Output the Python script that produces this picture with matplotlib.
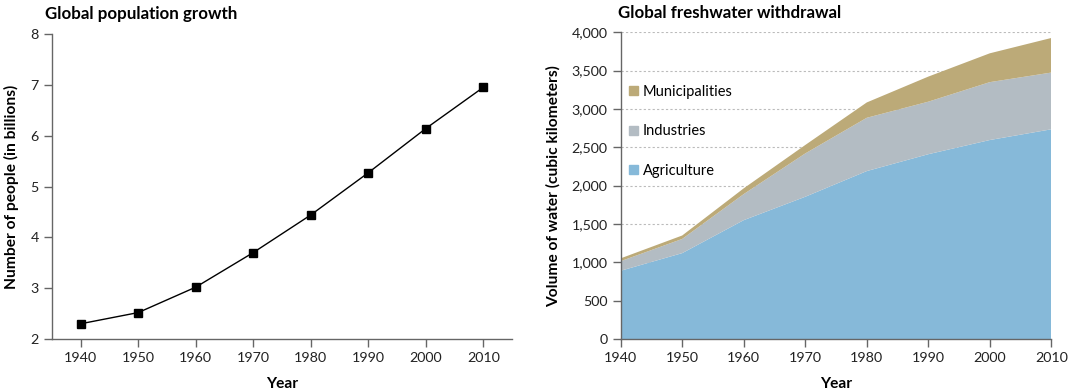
import matplotlib
matplotlib.use("Agg")
import matplotlib.pyplot as plt
from matplotlib.ticker import FuncFormatter
from matplotlib.patches import Patch

plt.rcParams['font.family'] = ['Lato', 'DejaVu Sans']

years = [1940, 1950, 1960, 1970, 1980, 1990, 2000, 2010]
population = [2.30, 2.52, 3.02, 3.70, 4.44, 5.27, 6.14, 6.95]

agriculture = [890, 1120, 1550, 1855, 2190, 2410, 2595, 2735]
industries = [125, 185, 340, 565, 695, 685, 755, 740]
municipalities = [37, 45, 75, 110, 200, 327, 376, 451]

series_names = ["Agriculture", "Industries", "Municipalities"]
colors = ["#86b9d9", "#b3bcc3", "#bcaa78"]

fig = plt.figure(figsize=(10.70, 3.91), dpi=100)
spine_col = "#666666"
tick_fs = 10.3
label_fs = 11.2
title_fs = 12.2

# Left chart
ax1 = fig.add_axes([52/1070, 1-339/391, (512-52)/1070, (339-34)/391])
ax1.plot(years, population, color="black", lw=1, marker="s", ms=5.5,
         markerfacecolor="black", markeredgecolor="black")
ax1.set_xlim(1935, 2015)
ax1.set_ylim(2, 8)
ax1.set_xticks(years)
ax1.set_yticks(range(2, 9))
for s in ["top", "right"]:
    ax1.spines[s].set_visible(False)
for s in ["left", "bottom"]:
    ax1.spines[s].set_color(spine_col)
    ax1.spines[s].set_linewidth(1)
ax1.tick_params(axis="both", colors=spine_col, labelcolor="#222222",
                labelsize=tick_fs, length=6, width=1)
ax1.set_xlabel("Year", fontsize=label_fs, fontweight="bold", labelpad=9)
ax1.set_ylabel("Number of people (in billions)", fontsize=label_fs,
               fontweight="bold", labelpad=8)
fig.text(45/1070, 1-14/391, "Global population growth", fontsize=title_fs,
         fontweight="bold", ha="left", va="center")

# Right chart
ax2 = fig.add_axes([620.7/1070, 1-339/391, (1051.3-620.7)/1070, (339-32.3)/391])
ax2.stackplot(years, agriculture, industries, municipalities,
              colors=colors, linewidth=0, zorder=2)
ax2.set_xlim(1940, 2010)
ax2.set_ylim(0, 4000)
ax2.set_xticks(years)
ax2.set_yticks(range(0, 4001, 500))
ax2.yaxis.set_major_formatter(FuncFormatter(lambda v, p: f"{int(v):,}"))
ax2.grid(axis="y", color="#bbbbbb", linestyle=(0, (2, 2)), linewidth=0.8, zorder=0)
ax2.set_axisbelow(True)
for s in ["top", "right"]:
    ax2.spines[s].set_visible(False)
for s in ["left", "bottom"]:
    ax2.spines[s].set_color(spine_col)
    ax2.spines[s].set_linewidth(1)
    ax2.spines[s].set_zorder(3)
ax2.tick_params(axis="both", colors=spine_col, labelcolor="#222222",
                labelsize=tick_fs, length=6, width=1)
ax2.set_xlabel("Year", fontsize=label_fs, fontweight="bold", labelpad=9)
ax2.set_ylabel("Volume of water (cubic kilometers)", fontsize=label_fs,
               fontweight="bold", labelpad=8)
fig.text(618/1070, 1-13/391, "Global freshwater withdrawal", fontsize=title_fs,
         fontweight="bold", ha="left", va="center")

handles = [Patch(color=colors[i], label=series_names[i]) for i in [2, 1, 0]]
leg = ax2.legend(handles=handles, loc="upper left", bbox_to_anchor=(-0.005, 0.862),
                 frameon=False, fontsize=10.5, handlelength=0.6, handleheight=0.6,
                 handletextpad=0.35, labelspacing=1.75, borderaxespad=0.3)

fig.savefig("out.png", dpi=100)
